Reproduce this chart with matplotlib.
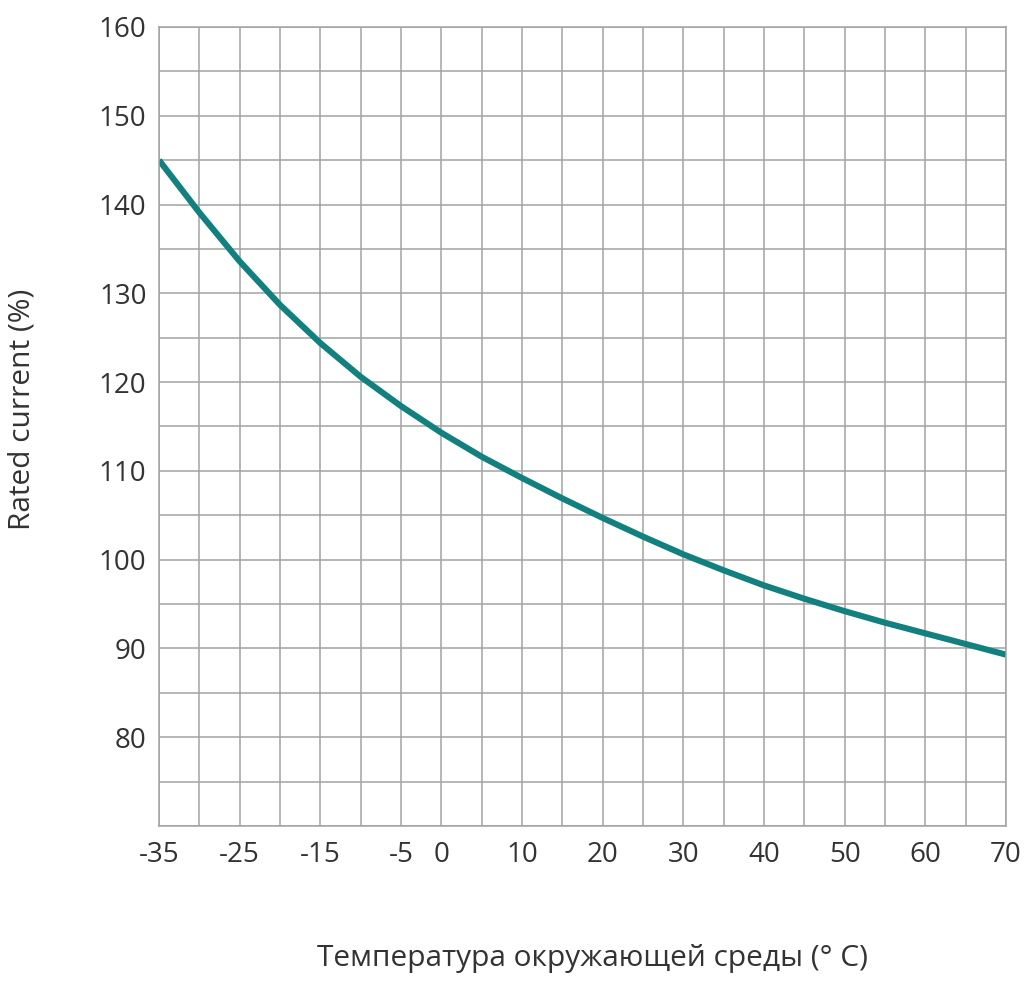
import matplotlib
matplotlib.use("Agg")
import matplotlib.pyplot as plt
import numpy as np

# ambient temperature (deg C) and rated current (%)
temperature = [-35, -30, -25, -20, -15, -10, -5, 0, 5, 10, 15,
               20, 25, 30, 35, 40, 45, 50, 55, 60, 65, 70]
rated_current = [145.0, 139.1, 133.6, 128.7, 124.4, 120.6, 117.3, 114.3, 111.6, 109.2, 106.9,
                 104.7, 102.6, 100.6, 98.8, 97.1, 95.6, 94.2, 92.9, 91.7, 90.5, 89.3]

xtick_labels = [-35, -25, -15, -5, 0, 10, 20, 30, 40, 50, 60, 70]
ytick_labels = [80, 90, 100, 110, 120, 130, 140, 150, 160]

plt.rcParams['font.family'] = ['Open Sans', 'DejaVu Sans']
textColor = "#333333"
gridColor = "#a3a3a3"
lineColor = "#12807f"

fig = plt.figure(figsize=(10.24, 9.82), dpi=100)
ax = fig.add_axes([159 / 1024, 1 - 826 / 982, 847 / 1024, 799 / 982])

ax.plot(temperature, rated_current, color=lineColor, linewidth=4.4, solid_capstyle='butt')

ax.set_xlim(-35, 70)
ax.set_ylim(70, 160)

ax.set_xticks(xtick_labels)
ax.set_xticks(np.arange(-35, 71, 5), minor=True)
ax.set_yticks(ytick_labels)
ax.set_yticks(np.arange(70, 161, 5), minor=True)
ax.set_xticklabels([str(v) for v in xtick_labels])
ax.set_yticklabels([str(v) for v in ytick_labels])

ax.grid(which='both', color=gridColor, linewidth=1.1)
ax.set_axisbelow(True)
for s in ax.spines.values():
    s.set_color(gridColor)
    s.set_linewidth(1.1)

ax.tick_params(which='both', length=0, labelsize=20, colors=textColor)
ax.tick_params(axis='x', pad=11)
ax.tick_params(axis='y', pad=9)

ax.set_xlabel("Температура окружающей среды (° C)", fontsize=21.5, color=textColor)
ax.set_ylabel("Rated current (%)", fontsize=21.5, color=textColor)
ax.xaxis.set_label_coords(0.512, -0.148)
ax.yaxis.set_label_coords(-0.145, 0.522)

fig.savefig("out.png", dpi=100, facecolor="white")
